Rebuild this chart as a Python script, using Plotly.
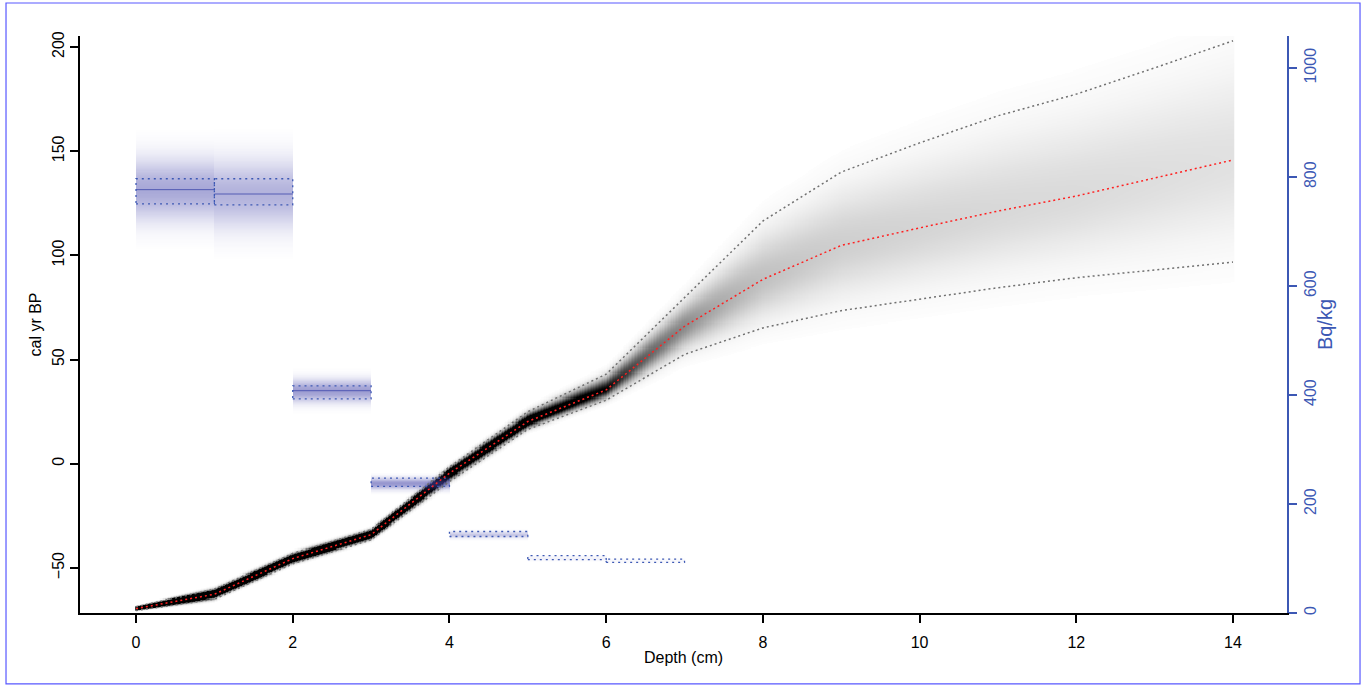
import numpy as np
import plotly.graph_objects as go

# ---------------- data ----------------
depths = [0, 1, 2, 3, 4, 5, 6, 7, 8, 9, 10, 11, 12, 13, 14]
age_mean = [-69.5, -62.6, -45.5, -34.0, -4.5, 20.3, 35.5, 66.0, 88.5, 104.8, 113.2, 121.3, 128.5, 137.2, 145.8]
age_upper = [-68.6, -60.2, -43.0, -31.5, -1.5, 25.0, 43.0, 80.0, 116.5, 140.0, 154.0, 167.0, 177.4, 190.0, 203.0]
age_lower = [-70.4, -65.0, -48.0, -36.5, -8.5, 16.5, 30.5, 52.5, 65.2, 73.5, 79.0, 84.5, 89.3, 93.0, 96.8]

pb_top = [0, 1, 2, 3, 4, 5, 6]
pb_bottom = [1, 2, 3, 4, 5, 6, 7]
pb_measured = [774, 773, 405, 240, 145, 101.5, 96]
pb_sd = [23, 24, 12, 7.5, 4.6, 3.7, 3.0]
pb_model_mean = [777, 769, 408, 238, 144, 101, 96]
pb_model_sd = [38, 42, 14, 7, 4, 3, 3]
pb_model_intensity = [0.62, 0.55, 0.7, 0.75, 0.4, 0.1, 0.05]

x_ticks = [0, 2, 4, 6, 8, 10, 12, 14]
y_ticks = [-50, 0, 50, 100, 150, 200]
y2_ticks = [0, 200, 400, 600, 800, 1000]

FONT = "Liberation Sans, Arial, Helvetica, sans-serif"
BLUE = "#3c58b4"

# ---------------- gray age-model cloud ----------------
gx = np.arange(0, 14.0001, 0.02)
gy = np.arange(-72, 205.01, 0.5)
m = np.interp(gx, depths, age_mean)
up = np.interp(gx, depths, age_upper)
lo = np.interp(gx, depths, age_lower)
sd_up = np.maximum((up - m) / 1.96, 0.3)
sd_lo = np.maximum((m - lo) / 1.96, 0.3)
sd_avg = (sd_up + sd_lo) / 2
Y = gy[:, None]
zz = np.where(Y >= m[None, :], (Y - m[None, :]) / sd_up[None, :], (Y - m[None, :]) / sd_lo[None, :])
dark = np.minimum(1.0, 3.2 / sd_avg[None, :] * np.exp(-0.5 * zz ** 2))
dark = np.round(dark, 3)
zgray = np.where(dark < 0.008, None, dark).tolist()

fig = go.Figure()
fig.add_trace(go.Heatmap(
    x=gx, y=gy, z=zgray, zmin=0, zmax=1,
    colorscale=[[0, "rgb(255,255,255)"], [1, "rgb(0,0,0)"]],
    showscale=False, hoverinfo="skip", yaxis="y"))

# ---------------- blue Pb-210 boxes ----------------
bx = [pb_top[0]] + list(pb_bottom)
by = np.arange(0, 1060, 1.0)
zb = np.zeros((len(by), len(pb_top)))
for i in range(len(pb_top)):
    zb[:, i] = pb_model_intensity[i] * np.exp(-0.5 * ((by - pb_model_mean[i]) / pb_model_sd[i]) ** 2)
zb = np.round(zb, 3)
zblue = np.where(zb < 0.01, None, zb).tolist()
fig.add_trace(go.Heatmap(
    x=bx, y=by, z=zblue, zmin=0, zmax=1,
    colorscale=[[0, "rgba(70,70,170,0)"], [1, "rgba(70,70,170,0.75)"]],
    showscale=False, hoverinfo="skip", yaxis="y2"))

# solid modelled lines in first boxes
sx, sy = [], []
for i in range(3):
    sx += [pb_top[i], pb_bottom[i], None]
    sy += [pb_model_mean[i], pb_model_mean[i], None]
fig.add_trace(go.Scatter(x=sx, y=sy, mode="lines", yaxis="y2",
                         line=dict(color="rgba(60,70,170,0.8)", width=1), hoverinfo="skip"))

# dotted measurement rectangles
rx, ry = [], []
for i in range(len(pb_top)):
    a, b = pb_top[i], pb_bottom[i]
    l_, h_ = pb_measured[i] - pb_sd[i], pb_measured[i] + pb_sd[i]
    rx += [a, b, b, a, a, None]
    ry += [l_, l_, h_, h_, l_, None]
fig.add_trace(go.Scatter(x=rx, y=ry, mode="lines", yaxis="y2",
                         line=dict(color=BLUE, width=1.3, dash="2px,4px"), hoverinfo="skip"))

# ---------------- model lines ----------------
fig.add_trace(go.Scatter(x=depths, y=age_upper, mode="lines", yaxis="y3",
                         line=dict(color="#707070", width=1.5, dash="2px,3px"), hoverinfo="skip"))
fig.add_trace(go.Scatter(x=depths, y=age_lower, mode="lines", yaxis="y3",
                         line=dict(color="#707070", width=1.5, dash="2px,3px"), hoverinfo="skip"))
fig.add_trace(go.Scatter(x=depths, y=age_mean, mode="lines", yaxis="y3",
                         line=dict(color="#ff2020", width=1.5, dash="2px,3px"), hoverinfo="skip"))

yr = [-71.6, 205.3]
fig.update_layout(
    width=1370, height=687,
    margin=dict(l=80, r=83, t=36, b=74),
    paper_bgcolor="white", plot_bgcolor="white",
    showlegend=False,
    font=dict(family=FONT, size=16, color="black"),
    xaxis=dict(range=[-0.715, 14.689], tickvals=x_ticks, ticks="outside", ticklen=8,
               tickwidth=1.5, tickcolor="black", showline=True, linecolor="black", linewidth=1.5,
               showgrid=False, zeroline=False, ticklabelstandoff=6,
               tickfont=dict(size=16),
               title=dict(text="Depth (cm)", font=dict(size=16), standoff=2)),
    yaxis=dict(range=yr, tickvals=y_ticks, ticks="outside", ticklen=8, tickangle=-90,
               tickwidth=1.5, tickcolor="black", showline=True, linecolor="black", linewidth=1.5,
               showgrid=False, zeroline=False, tickfont=dict(size=16),
               title=dict(text="cal yr BP", font=dict(size=16), standoff=4)),
    yaxis2=dict(range=[0, 1059], overlaying="y", side="right", tickvals=y2_ticks,
                ticks="outside", ticklen=8, tickangle=-90, tickwidth=1.5,
                tickcolor=BLUE, showline=True, linecolor=BLUE, linewidth=1.5,
                tickfont=dict(color=BLUE, size=16),
                showgrid=False, zeroline=False,
                title=dict(text="Bq/kg", font=dict(color=BLUE, size=20), standoff=0)),
    yaxis3=dict(range=yr, overlaying="y", visible=False),
    shapes=[dict(type="rect", xref="paper", yref="paper",
                 x0=-0.0613, x1=1.0605, y0=-0.123, y1=1.0572,
                 line=dict(color="#5858ff", width=1.2), fillcolor="rgba(0,0,0,0)")],
)

fig.write_html("out.html")
